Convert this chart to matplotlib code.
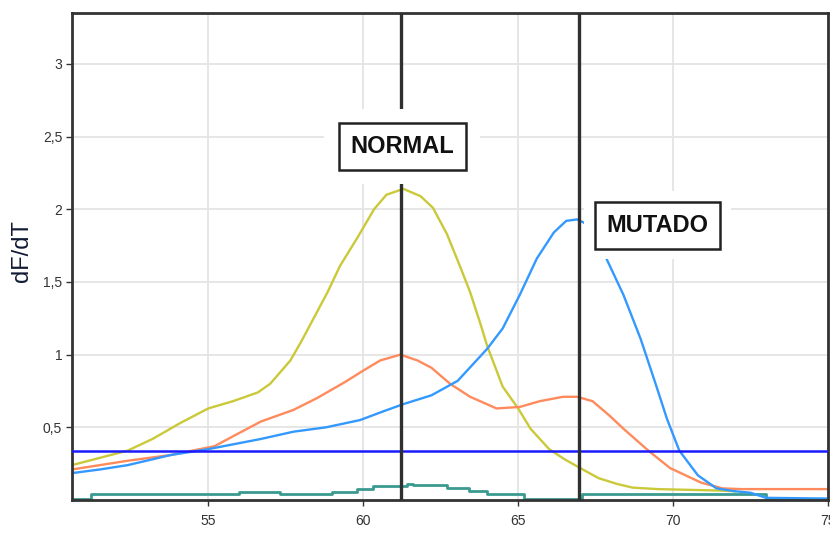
import matplotlib
matplotlib.use("Agg")
import matplotlib.pyplot as plt

# ---- data ----
temp_yellow = [50.6, 51.5, 52.4, 53.2, 54.1, 55.0, 55.8, 56.6, 57.0, 57.65, 58.0, 58.4, 58.85,
               59.25, 59.8, 60.35, 60.75, 61.3, 61.85, 62.25, 62.7, 63.1, 63.45, 63.8, 64.0,
               64.5, 65.0, 65.4, 66.0, 66.5, 67.0, 67.6, 68.2, 68.7, 69.5, 70.5, 71.5, 72.0]
vals_yellow = [0.24, 0.29, 0.34, 0.42, 0.53, 0.63, 0.68, 0.74, 0.80, 0.96, 1.09, 1.25, 1.43,
               1.61, 1.80, 2.00, 2.10, 2.14, 2.09, 2.01, 1.83, 1.62, 1.43, 1.20, 1.06,
               0.78, 0.63, 0.49, 0.35, 0.28, 0.22, 0.15, 0.11, 0.085, 0.075, 0.07, 0.065, 0.06]

temp_orange = [50.6, 51.5, 52.4, 53.8, 55.2, 55.9, 56.7, 57.75, 58.5, 59.4, 60.0, 60.55, 61.2,
               61.75, 62.2, 62.8, 63.45, 64.3, 65.05, 65.7, 66.45, 66.9, 67.4, 67.95, 68.4,
               69.2, 69.9, 70.9, 71.6, 72.2, 75.0]
vals_orange = [0.21, 0.24, 0.27, 0.31, 0.37, 0.45, 0.54, 0.62, 0.70, 0.81, 0.89, 0.96, 1.00,
               0.96, 0.91, 0.80, 0.71, 0.63, 0.64, 0.68, 0.71, 0.71, 0.68, 0.58, 0.49,
               0.34, 0.22, 0.12, 0.08, 0.075, 0.075]

temp_blue = [50.6, 51.5, 52.4, 53.8, 55.0, 56.7, 57.75, 58.8, 59.9, 60.65, 61.3, 62.2, 63.05,
             64.0, 64.5, 65.05, 65.6, 66.15, 66.55, 66.9, 67.2, 67.5, 67.85, 68.4, 68.95,
             69.45, 69.8, 70.2, 70.8, 71.4, 72.0, 72.5, 73.0, 75.0]
vals_blue = [0.185, 0.21, 0.24, 0.31, 0.35, 0.42, 0.47, 0.50, 0.55, 0.61, 0.66, 0.72, 0.82,
             1.04, 1.18, 1.41, 1.66, 1.84, 1.92, 1.93, 1.90, 1.80, 1.66, 1.41, 1.11,
             0.79, 0.56, 0.34, 0.17, 0.08, 0.06, 0.05, 0.015, 0.01]

temp_teal = [50.6, 51.2, 56.0, 57.3, 59.0, 59.8, 60.3, 61.4, 61.6, 62.7, 63.4, 64.0, 65.2,
             67.05, 73.0, 75.0]
vals_teal = [0.005, 0.041, 0.055, 0.041, 0.055, 0.075, 0.094, 0.11, 0.10, 0.08, 0.06, 0.041,
             0.005, 0.041, 0.005, 0.005]

threshold = 0.335
marker_temps = [61.23, 66.95]
marker_labels = ["NORMAL", "MUTADO"]
label_pos = [(61.26, 2.43), (69.5, 1.89)]

xticks = [55, 60, 65, 70, 75]
xtick_labels = ["55", "60", "65", "70", "75"]
yticks = [0.5, 1.0, 1.5, 2.0, 2.5, 3.0]
ytick_labels = ["0,5", "1", "1,5", "2", "2,5", "3"]

# ---- figure ----
fig = plt.figure(figsize=(8.3, 5.33), dpi=100)
ax = fig.add_axes([0.0867, 0.0619, 0.9109, 0.9137])

ax.set_xlim(50.6, 75.0)
ax.set_ylim(0, 3.35)

ax.grid(True, color="#e4e4e4", lw=1.3)
ax.set_axisbelow(True)

lw = 1.7
ax.plot(temp_teal, vals_teal, color="#3a9a90", lw=2.0, drawstyle="steps-post", zorder=2)
ax.plot(temp_yellow, vals_yellow, color="#c9c93a", lw=lw, zorder=2)
ax.plot(temp_orange, vals_orange, color="#ff8a5c", lw=lw, zorder=2)
ax.plot(temp_blue, vals_blue, color="#3399ff", lw=lw, zorder=2)

ax.axhline(threshold, color="#1a1aff", lw=1.8, zorder=3)

for t in marker_temps:
    ax.axvline(t, color="#303030", lw=2.4, zorder=3)

for (lx, ly), txt, wpad in zip(label_pos, marker_labels, [1.1, 0.95]):
    ax.text(lx, ly, txt, ha="center", va="center", fontsize=17, color="none",
            family="Liberation Sans", fontweight="bold",
            bbox=dict(boxstyle=f"square,pad={wpad}", fc="white", ec="none"), zorder=4)
    ax.text(lx, ly, txt, ha="center", va="center", fontsize=17, color="#111111",
            family="Liberation Sans", fontweight="bold",
            bbox=dict(boxstyle="square,pad=0.5", fc="white", ec="#222222", lw=1.8), zorder=6)

ax.set_xticks(xticks)
ax.set_xticklabels(xtick_labels)
ax.set_yticks(yticks)
ax.set_yticklabels(ytick_labels)
ax.tick_params(axis="both", labelsize=10, colors="#333333", length=4, width=1, direction="out")
ax.tick_params(axis="x", pad=6)
ax.tick_params(axis="y", pad=3)
for lab in ax.get_xticklabels() + ax.get_yticklabels():
    lab.set_family("Liberation Sans")

for side, sp in ax.spines.items():
    sp.set_color("#333333")
    sp.set_linewidth(2.0)

ax.set_ylabel("dF/dT", fontsize=17, color="#111a33", family="Liberation Sans")
ax.yaxis.set_label_coords(-0.052, 0.512)

fig.savefig("out.png", dpi=100)
